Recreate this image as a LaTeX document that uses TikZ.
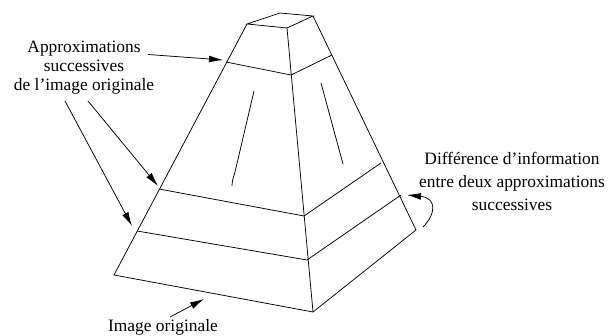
\documentclass[tikz,border=0pt]{standalone}
\usepackage{fontspec}
\setmainfont{Liberation Serif}
\usetikzlibrary{arrows.meta}
\tikzset{
  edge/.style={draw=black,line width=0.75pt,line join=miter},
  call/.style={draw=black,line width=0.75pt,-{Latex[length=14pt,width=7pt]}},
  lab/.style={font=\fontsize{17.4}{19}\selectfont,align=center,inner sep=0pt,text=black}
}
\begin{document}
\begin{tikzpicture}[x=1pt,y=-1pt]
\useasboundingbox (0,0) rectangle (608,336);
\coordinate (ta) at (247,24);
\coordinate (tb) at (280,13);
\coordinate (tc) at (313,16);
\coordinate (td) at (287,28);
\coordinate (bl) at (114,275);
\coordinate (bc) at (313,312);
\coordinate (br) at (416,230);
\coordinate (l1) at (226,62);
\coordinate (c1) at (291,75);
\coordinate (r1) at (332,55);
\coordinate (l2) at (159,189);
\coordinate (c2) at (304,216);
\coordinate (r2) at (381,163);
\coordinate (l3) at (137,231);
\coordinate (c3) at (307,260);
\coordinate (r3) at (401,195);
\coordinate (i1a) at (254,91);
\coordinate (i1b) at (232,186);
\coordinate (i2a) at (321,83);
\coordinate (i2b) at (343,164);
\coordinate (a1s) at (148,54.5);
\coordinate (a1e) at (223,60);
\coordinate (a2s) at (88,101);
\coordinate (a2e) at (158,186);
\coordinate (a3s) at (65,101);
\coordinate (a3e) at (132,226);
\coordinate (a4s) at (170,317);
\coordinate (a4e) at (204,299);
\coordinate (a5s) at (423,227);
\coordinate (a5e) at (407,195);

\draw[edge] (ta) -- (tb) -- (tc) -- (td) -- cycle;
\draw[edge] (ta) -- (bl) -- (bc) -- (br) -- (tc);
\draw[edge] (td) -- (bc);
\draw[edge] (l1) -- (c1) -- (r1);
\draw[edge] (l2) -- (c2) -- (r2);
\draw[edge] (l3) -- (c3) -- (r3);
\draw[edge] (i1a) -- (235,172) .. controls (233,178) and (232,182) .. (i1b);
\draw[edge] (i2a) -- (i2b);
\draw[call] (a1s) -- (a1e);
\draw[call] (a2s) -- (a2e);
\draw[call] (a3s) -- (a3e);
\draw[call] (a4s) -- (a4e);
\draw[call] (a5s) .. controls (436,214) and (437,198) .. (a5e);

\node[lab] (n1) at (84,68) {Approximations\\successives\\de l’image originale};
\node[lab,font=\fontsize{17.4}{23}\selectfont] (n2) at (512,181) {Différence d’information\\entre deux approximations\\successives};
\node[lab] (n3) at (163,327) {Image originale};
\end{tikzpicture}
\end{document}
